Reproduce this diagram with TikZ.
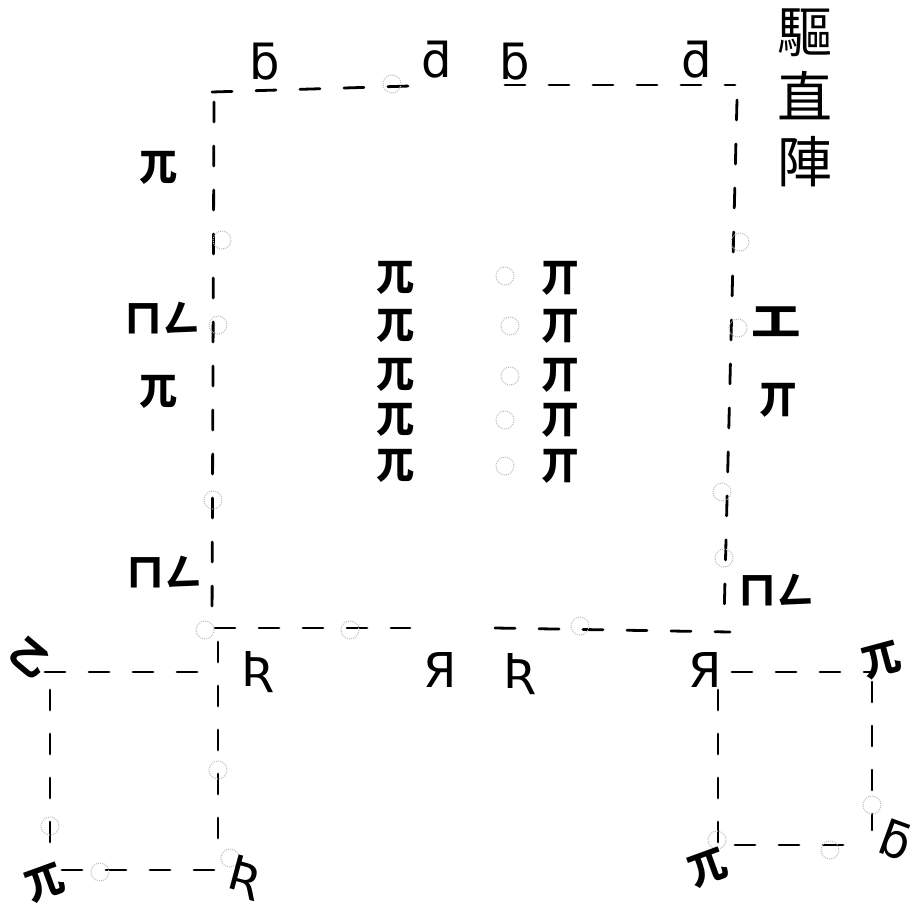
\documentclass[tikz,border=0pt]{standalone}
\usepackage{fontspec}
\newfontfamily\cjk{Noto Sans CJK TC}
\newfontfamily\dvs{DejaVu Sans}
\begin{document}
\begin{tikzpicture}[x=1pt,y=-1pt,
  edge/.style={line width=2.8pt, dash pattern=on 20pt off 24pt, line cap=round},
  ring/.style={gray!50, densely dotted, line width=1pt},
  glyph/.style={font=\cjk\bfseries\fontsize{38}{38}\selectfont, inner sep=0pt},
  lat/.style={font=\dvs\fontsize{48}{48}\selectfont, inner sep=0pt},
  title/.style={font=\cjk\fontsize{55}{65}\selectfont, align=center, inner sep=0pt}
]
\useasboundingbox (0,0) rectangle (916,916);
\fill[white] (0,0) rectangle (916,916);

% corners
\coordinate (A1) at (212,92);  \coordinate (A2) at (410,86);
\coordinate (A3) at (505,85);  \coordinate (A4) at (735,85);
\coordinate (R1) at (737,100); \coordinate (R2) at (724,620);
\coordinate (L1) at (214,102); \coordinate (L2) at (212,625);
\coordinate (B1) at (215,628); \coordinate (B2) at (410,628);
\coordinate (B3) at (495,628); \coordinate (B4) at (730,632);

\draw[edge] (A1) -- (A2);
\draw[edge] (A3) -- (A4);
\draw[edge] (R1) -- (R2);
\draw[edge] (L1) -- (L2);
\draw[edge] (B1) -- (B2);
\draw[edge] (B3) -- (B4);

% lower left square
\coordinate (P1) at (45,672);  \coordinate (P2) at (210,672);
\coordinate (P3) at (50,690);  \coordinate (P4) at (50,865);
\coordinate (P5) at (62,870);  \coordinate (P6) at (215,870);
\coordinate (P7) at (218,642); \coordinate (P8) at (218,860);
\draw[edge] (P1) -- (P2);
\draw[edge] (P3) -- (P4);
\draw[edge] (P5) -- (P6);
\draw[edge] (P7) -- (P8);

% lower right square
\coordinate (Q1) at (732,672); \coordinate (Q2) at (870,672);
\coordinate (Q3) at (718,690); \coordinate (Q4) at (718,845);
\coordinate (Q5) at (872,682); \coordinate (Q6) at (872,830);
\coordinate (Q7) at (735,845); \coordinate (Q8) at (860,845);
\draw[edge] (Q1) -- (Q2);
\draw[edge] (Q3) -- (Q4);
\draw[edge] (Q5) -- (Q6);
\draw[edge] (Q7) -- (Q8);

% faint rings
\foreach \p in {(392,84),(222,240),(218,325),(213,500),(205,630),(740,242),(738,328),(722,492),(724,558),(580,626),(350,630),
                (218,770),(50,826),(100,872),(230,858),(717,840),(830,850),(872,805),
                (505,276),(510,326),(510,376),(505,420),(505,466)}
  \draw[ring] \p circle (9);

% title
\node[title] (ttl) at (805,98) {驅\\直\\陣};

% top row
\node[lat] (t1) at (265,62) {ƃ};
\node[lat] (t2) at (437,60) {ƌ};
\node[lat] (t3) at (515,62) {ƃ};
\node[lat] (t4) at (697,60) {ƌ};

% left side
\node[glyph] (l1) at (158,168) {兀};
\node[glyph] (l2) at (162,318) {ㄇㄥ};
\node[glyph] (l3) at (158,392) {兀};
\node[glyph] (l4) at (164,572) {ㄇㄥ};

% right side
\node[glyph, xscale=1.3] (r1) at (776,322) {工};
\node[glyph] (r2) at (778,400) {丌};
\node[glyph] (r3) at (776,590) {ㄇㄥ};

% inner columns
\foreach \y [count=\i] in {278,326,375,420,466} {
  \node[glyph] (c\i) at (395,\y) {兀};
  \node[glyph] (d\i) at (560,\y) {丌};
}

% bottom row
\node[lat] (b1) at (258,672) {Ʀ};
\node[lat] (b2) at (440,670) {Я};
\node[lat] (b3) at (520,674) {Ʀ};
\node[lat] (b4) at (705,670) {Я};

% corners of lower squares
\node[glyph, rotate=-40] (k1) at (30,658) {乙};
\node[glyph, rotate=20] (k2) at (45,883) {兀};
\node[lat, rotate=-15] (k3) at (245,878) {Ʀ};
\node[glyph, rotate=15] (k4) at (882,660) {兀};
\node[glyph, rotate=20] (k5) at (708,868) {兀};
\node[lat, rotate=-20] (k6) at (896,840) {ƃ};
\end{tikzpicture}
\end{document}
